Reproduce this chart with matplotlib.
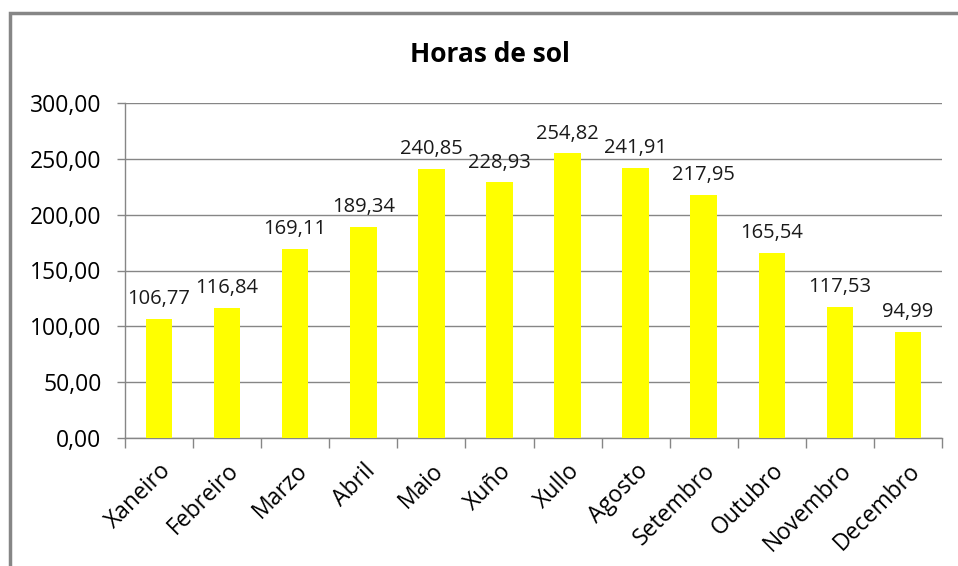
import numpy as np
import matplotlib
matplotlib.use("Agg")
import matplotlib.pyplot as plt
from matplotlib.patches import Rectangle

plt.rcParams['font.family'] = ['Open Sans', 'DejaVu Sans']

# datos
meses = ["Xaneiro", "Febreiro", "Marzo", "Abril", "Maio", "Xuño",
         "Xullo", "Agosto", "Setembro", "Outubro", "Novembro", "Decembro"]
horas = [106.77, 116.84, 169.11, 189.34, 240.85, 228.93,
         254.82, 241.91, 217.95, 165.54, 117.53, 94.99]
yticks = [0, 50, 100, 150, 200, 250, 300]

W, H = 958, 566
fig = plt.figure(figsize=(W / 100, H / 100), dpi=100)
ax = fig.add_axes([125 / W, (H - 438) / H, (942 - 125) / W, (438 - 103) / H])

gris = "#868686"
x = np.arange(len(meses))
ax.bar(x, horas, width=0.39, color="#FFFF00", zorder=3)

for xi, v in zip(x, horas):
    ax.annotate(f"{v:.2f}".replace(".", ","), (xi, v), xytext=(0, 7),
                textcoords="offset points", ha="center", va="bottom",
                fontsize=14.5, color="#1a1a1a")

ax.set_xlim(-0.5, len(meses) - 0.5)
ax.set_ylim(0, 300)
ax.set_yticks(yticks)
ax.set_yticklabels([f"{t:.2f}".replace(".", ",") for t in yticks], fontsize=16.5)
ax.yaxis.grid(True, color=gris, linewidth=1)
ax.set_axisbelow(True)

ax.set_xticks(x)
ax.set_xticklabels(meses, rotation=45, ha="right", rotation_mode="anchor", fontsize=16.5)
ax.set_xticks(np.arange(-0.5, len(meses), 1), minor=True)
ax.tick_params(axis="x", which="major", length=0, pad=15)
ax.tick_params(axis="x", which="minor", length=7, color=gris, width=1)
ax.tick_params(axis="y", length=6, color=gris, width=1, pad=11)

for s in ["top", "right"]:
    ax.spines[s].set_visible(False)
for s in ["left", "bottom"]:
    ax.spines[s].set_color(gris)
    ax.spines[s].set_linewidth(1)

fig.text(490 / W, 1 - 55 / H, "Horas de sol", ha="center", va="center",
         fontsize=19, fontweight="bold")

# borde del gráfico (solo visible arriba e izquierda)
fig.patches.append(Rectangle((9.5 / W, -0.1), 1.1, 1 - 13.5 / H + 0.1,
                             transform=fig.transFigure, fill=False,
                             edgecolor=gris, linewidth=2.5))

fig.savefig("out.png", dpi=100)
